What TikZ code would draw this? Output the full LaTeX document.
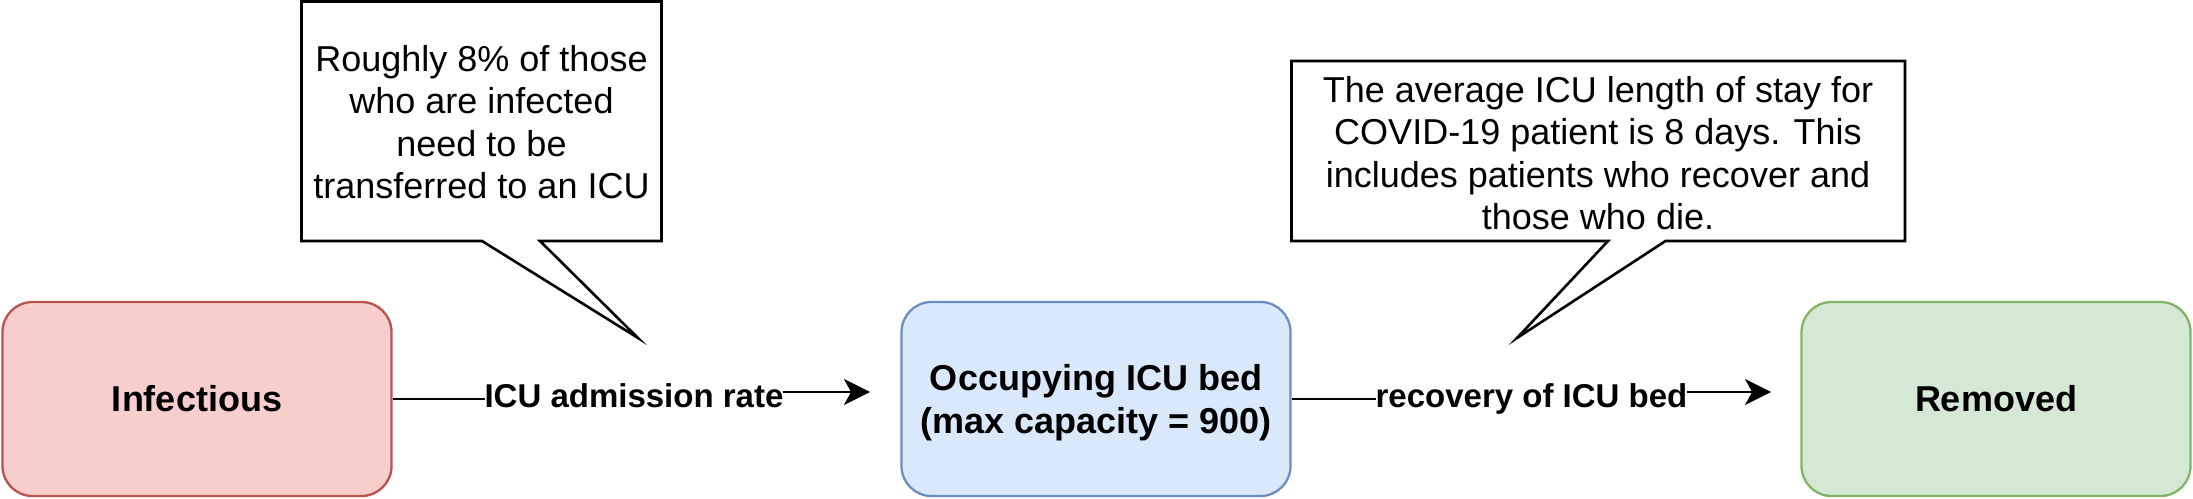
\documentclass[tikz,border=0pt]{standalone}
\usepackage{fontspec}
\setmainfont{Liberation Sans}
\usetikzlibrary{arrows.meta}
\definecolor{redfill}{HTML}{F8CECC}
\definecolor{redline}{HTML}{B85450}
\definecolor{bluefill}{HTML}{DAE8FC}
\definecolor{blueline}{HTML}{6C8EBF}
\definecolor{greenfill}{HTML}{D5E8D4}
\definecolor{greenline}{HTML}{82B366}
\tikzset{
  stockbox/.style={rounded corners=15pt, minimum width=194.5pt, minimum height=97pt,
    line width=1.15pt, align=center, inner sep=0pt,
    font=\fontsize{18}{21.5}\selectfont\bfseries},
  flowlabel/.style={fill=white, inner sep=0pt, anchor=base,
    font=\fontsize{16.5}{19}\selectfont\bfseries},
  flowline/.style={line width=1pt, -{Stealth[length=13pt,width=13pt,inset=3.5pt]}},
  callout/.style={draw=black, fill=white, line width=1.3pt},
  callouttext/.style={align=center, inner sep=0pt, font=\fontsize{18}{21.2}\selectfont},
}
\begin{document}
\begin{tikzpicture}[x=0.5pt,y=-0.5pt]
\useasboundingbox (0,0) rectangle (2193,498);
% stocks
\node[stockbox, draw=redline, fill=redfill] (inf) at (197,399) {Infectious};
\node[stockbox, draw=blueline, fill=bluefill, text depth=0pt] (icu) at (1096,399) {Occupying ICU bed\\(max capacity = 900)};
\node[stockbox, draw=greenline, fill=greenfill] (rem) at (1996,399) {Removed};
% flows
\coordinate (t1) at (870,392);
\coordinate (m1) at (634,395);
\draw[flowline] (inf.east) -| (m1) |- (t1);
\node[flowlabel] (l1) at (634,407) {ICU admission rate};
\coordinate (t2) at (1771,392);
\coordinate (m2) at (1531,395);
\draw[flowline] (icu.east) -| (m2) |- (t2);
\node[flowlabel] (l2) at (1531.5,407) {recovery of ICU bed};
% callout 1
\draw[callout] (301.5,1.5) -- (661.5,1.5) -- (661.5,241) -- (540,241) -- (638,338)
  -- (482,241) -- (301.5,241) -- cycle;
\node[callouttext] (c1) at (481.5,122) {Roughly 8\% of those\\who are infected\\need to be\\transferred to an ICU};
% callout 2
\draw[callout] (1291.5,61) -- (1905,61) -- (1905,241) -- (1665.5,241) -- (1517,338)
  -- (1608,241) -- (1291.5,241) -- cycle;
\node[callouttext] (c2) at (1598,153) {The average ICU length of stay for\\COVID-19 patient is 8 days. This\\includes patients who recover and\\those who die.};
\end{tikzpicture}
\end{document}
